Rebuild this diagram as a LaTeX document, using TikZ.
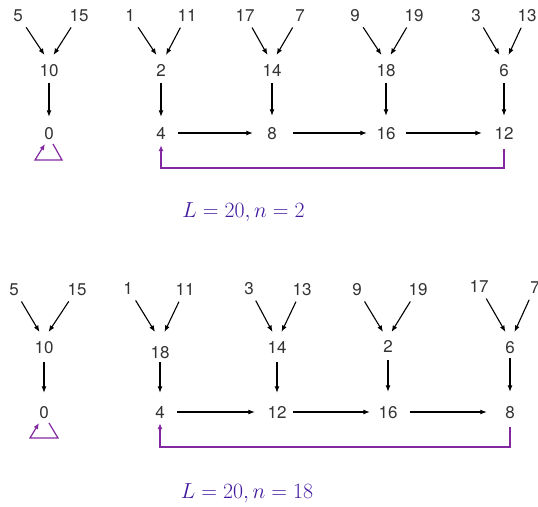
\documentclass[tikz,border=0pt]{standalone}
\usepackage[no-math]{fontspec}
\newfontfamily\numfont{TeX Gyre Heros}
\usetikzlibrary{arrows.meta}
\definecolor{fbcol}{RGB}{130,40,160}
\definecolor{lblcol}{RGB}{65,25,160}
\begin{document}
\begin{tikzpicture}[x=1pt,y=-1pt,
  num/.style={font=\numfont\fontsize{17}{20}\selectfont, inner sep=2pt, text height=12pt, text depth=0pt, text=black!80},
  arr/.style={-{Latex[length=6.5pt,width=5pt]}, line width=1.1pt, black},
  leafarr/.style={arr, shorten <=5pt},
  fb/.style={-{Latex[length=6pt,width=5pt]}, line width=1.2pt, fbcol, line join=miter},
  lbl/.style={font=\huge, text=lblcol, anchor=base, inner sep=0pt, scale=1.05, transform shape}]
\useasboundingbox (0,0) rectangle (538,506);

% ---------- top diagram ----------
\node[num] (a5)  at (18,15)  {5};
\node[num] (a15) at (79,15)  {15};
\node[num] (a1)  at (130,15) {1};
\node[num] (a11) at (187,15) {11};
\node[num] (a17) at (245,15) {17};
\node[num] (a7)  at (300,15) {7};
\node[num] (a9)  at (355,15) {9};
\node[num] (a19) at (414,15) {19};
\node[num] (a3)  at (476,15) {3};
\node[num] (a13) at (527,15) {13};

\node[num] (m10) at (49,70)  {10};
\node[num] (m2)  at (161,70) {2};
\node[num] (m14) at (272,70) {14};
\node[num] (m18) at (386,70) {18};
\node[num] (m6)  at (504,70) {6};

\node[num] (b0)  at (49,133)  {0};
\node[num] (b4)  at (161,133) {4};
\node[num] (b8)  at (272,133) {8};
\node[num] (b16) at (386,133) {16};
\node[num] (b12) at (504,133) {12};

\draw[leafarr] (a5)  -- ([xshift=-4.5pt,yshift=15pt]m10.center);
\draw[leafarr] (a15) -- ([xshift=4.5pt,yshift=15pt]m10.center);
\draw[leafarr] (a1)  -- ([xshift=-4.5pt,yshift=15pt]m2.center);
\draw[leafarr] (a11) -- ([xshift=5pt,yshift=15pt]m2.center);
\draw[leafarr] (a17) -- ([xshift=-4.5pt,yshift=15pt]m14.center);
\draw[leafarr] (a7)  -- ([xshift=4.5pt,yshift=15pt]m14.center);
\draw[leafarr] (a9)  -- ([xshift=-4.5pt,yshift=15pt]m18.center);
\draw[leafarr] (a19) -- ([xshift=4.5pt,yshift=15pt]m18.center);
\draw[leafarr] (a3)  -- ([xshift=-4.5pt,yshift=15pt]m6.center);
\draw[leafarr] (a13) -- ([xshift=4.5pt,yshift=15pt]m6.center);

\draw[arr, shorten <=5pt, shorten >=8pt] (m10) -- (b0);
\draw[arr, shorten <=5pt, shorten >=8pt] (m2)  -- (b4);
\draw[arr, shorten <=5pt, shorten >=9pt] (m14) -- (b8);
\draw[arr, shorten <=5pt, shorten >=9pt] (m18) -- (b16);
\draw[arr, shorten <=5pt, shorten >=9pt] (m6)  -- (b12);

\draw[arr, shorten <=10.3pt, shorten >=12.3pt] (b4) -- (b8);
\draw[arr, shorten <=14.3pt, shorten >=7.5pt] (b8) -- (b16);
\draw[arr, shorten <=8.5pt, shorten >=10.5pt] (b16) -- (b12);

\coordinate (t1) at (504,168);
\draw[fb, shorten <=8pt, shorten >=4pt] (b12) -- (t1) -| (b4);
\draw[fb] ([xshift=4pt,yshift=-11pt]b0.center) -- ++(9,16) -- ++(-27,0) -- ++(10,-16);

\node[lbl] (l1) at (243.5,217) {$L=20, n=2$};

% ---------- bottom diagram ----------
\node[num] (c5)  at (14,289)  {5};
\node[num] (c15) at (77,289)  {15};
\node[num] (c1)  at (128,288) {1};
\node[num] (c11) at (185,289) {11};
\node[num] (c3)  at (249,288) {3};
\node[num] (c13) at (302,289) {13};
\node[num] (c9)  at (357,289) {9};
\node[num] (c19) at (418,289) {19};
\node[num] (c17) at (479,286) {17};
\node[num] (c7)  at (535,287) {7};

\node[num] (n10) at (44,347)  {10};
\node[num] (n18) at (160,352) {18};
\node[num] (n14) at (277,347) {14};
\node[num] (n2)  at (388,346) {2};
\node[num] (n6)  at (510,347) {6};

\node[num] (d0)  at (44,412)  {0};
\node[num] (d4)  at (160,412) {4};
\node[num] (d12) at (277,412) {12};
\node[num] (d16) at (388,412) {16};
\node[num] (d8)  at (510,412) {8};

\draw[leafarr] (c5)  -- ([xshift=-4.5pt,yshift=15pt]n10.center);
\draw[leafarr] (c15) -- ([xshift=4.5pt,yshift=15pt]n10.center);
\draw[leafarr] (c1)  -- ([xshift=-5pt,yshift=20pt]n18.center);
\draw[leafarr] (c11) -- ([xshift=4.5pt,yshift=20pt]n18.center);
\draw[leafarr] (c3)  -- ([xshift=-4.5pt,yshift=15pt]n14.center);
\draw[leafarr] (c13) -- ([xshift=4.5pt,yshift=15pt]n14.center);
\draw[leafarr] (c9)  -- ([xshift=-5pt,yshift=14pt]n2.center);
\draw[leafarr] (c19) -- ([xshift=3.5pt,yshift=14pt]n2.center);
\draw[leafarr] (c17) -- ([xshift=-4.5pt,yshift=15pt]n6.center);
\draw[leafarr] (c7)  -- ([xshift=4.5pt,yshift=15pt]n6.center);

\draw[arr, shorten <=7pt, shorten >=11pt] (n10) -- (d0);
\draw[arr, shorten <=2pt, shorten >=11pt] (n18) -- (d4);
\draw[arr, shorten <=7pt, shorten >=11pt] (n14) -- (d12);
\draw[arr, shorten <=6pt, shorten >=12pt] (n2)  -- (d16);
\draw[arr, shorten <=3pt, shorten >=12pt] (n6)  -- (d8);

\draw[arr, shorten <=10.3pt, shorten >=10.5pt] (d4) -- (d12);
\draw[arr, shorten <=4.5pt, shorten >=6.5pt] (d12) -- (d16);
\draw[arr, shorten <=10.5pt, shorten >=16.3pt] (d16) -- (d8);

\coordinate (t2) at (510,447);
\draw[fb, shorten <=7pt, shorten >=3pt] (d8) -- (t2) -| (d4);
\draw[fb] ([xshift=5pt,yshift=-11pt]d0.center) -- ++(9,15) -- ++(-28,0) -- ++(9,-15);

\node[lbl] (l2) at (247,498) {$L=20, n=18$};
\end{tikzpicture}
\end{document}
